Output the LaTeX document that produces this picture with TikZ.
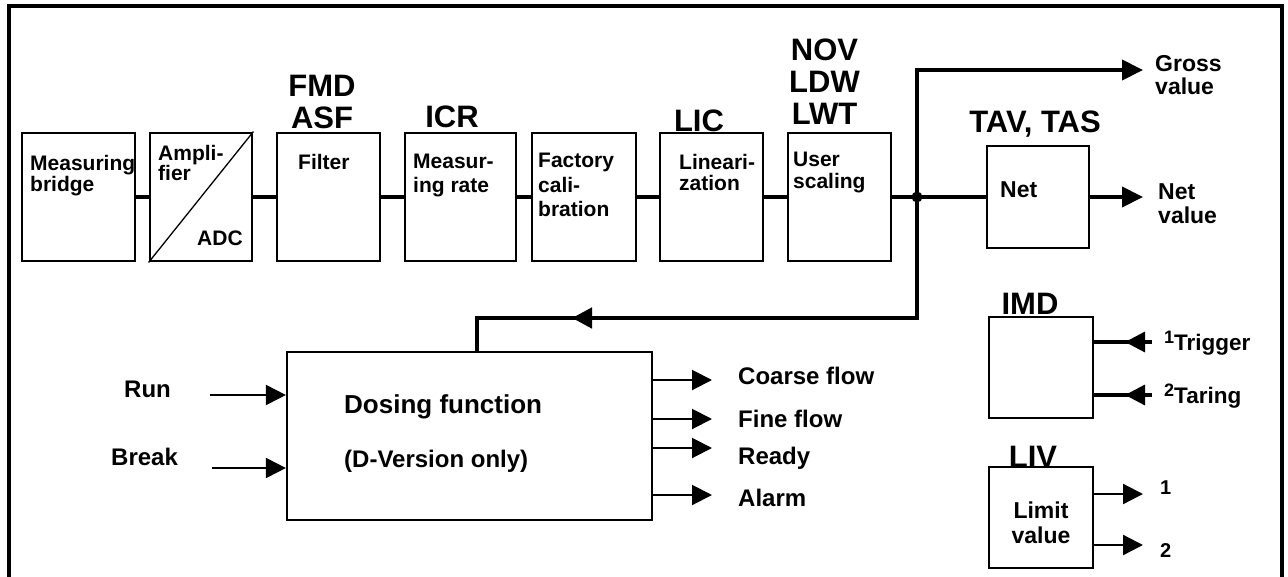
\documentclass[tikz,border=0pt]{standalone}
\usepackage{fontspec}
\setmainfont{Liberation Sans}
\usetikzlibrary{arrows.meta,calc,decorations.markings}
\newcommand\fsz[2]{\fontsize{#1}{#2}\selectfont\bfseries}
\begin{document}
\begin{tikzpicture}[x=1pt,y=-1pt,
  box/.style={draw,line width=2.9pt,inner sep=0pt,minimum width=103pt,minimum height=128pt},
  sbox/.style={draw,line width=2.2pt,inner sep=0pt},
  bus/.style={line width=4.6pt},
  sig/.style={line width=2pt},
  bigtip/.style={-{Triangle[length=21pt,width=20pt]}},
  smalltip/.style={-{Triangle[length=20pt,width=20pt]}},
  txt/.style={inner sep=0pt,font=\fsz{21}{22},align=left},
  lbl/.style={inner sep=0pt,font=\fsz{31}{32},anchor=base},
  mtxt/.style={inner sep=0pt,font=\fsz{24}{24},anchor=base west},
  midarrow/.style={postaction={decorate,decoration={markings,
      mark=at position #1 with {\arrow{Triangle[length=20pt,width=20pt]}}}}}
]
\useasboundingbox (0,0) rectangle (1288,576);
\fill[white] (0,0) rectangle (1288,576);
% frame
\draw[line width=3.4pt] (9,590) -- (9,6) -- (1282,6) -- (1282,590);

% top chain boxes
\node[box,minimum width=113pt] (mb)  at (78.5,197) {};
\node[box,minimum width=102pt] (amp) at (201,197) {};
\node[box] (fil) at (328.5,197) {};
\node[box,minimum width=111pt] (mr)  at (460.5,197) {};
\node[box,minimum width=104pt] (fc)  at (584,197) {};
\node[box] (lin) at (711.5,197) {};
\node[box] (us)  at (839.5,197) {};
\draw[line width=1.3pt] (amp.south west) -- (amp.north east);

% texts in boxes
\node[txt,anchor=north west,font=\fsz{21}{21}] (tmb) at (30,155) {Measuring\\bridge};
\node[txt,anchor=north west,font=\fsz{21}{20}] (tamp) at (158,145) {Ampli-\\fier};
\node[txt,anchor=base west] (tadc) at (197,245) {ADC};
\node[txt,anchor=base west] (tfil) at (298,169) {Filter};
\node[txt,anchor=north west,font=\fsz{21}{24}] (tmr) at (413,154) {Measur-\\ing rate};
\node[txt,anchor=north west,font=\fsz{21}{24.5}] (tfc) at (538,153) {Factory\\cali-\\bration};
\node[txt,anchor=north west,font=\fsz{21}{21.5}] (tlin) at (679,154) {Lineari-\\zation};
\node[txt,anchor=north west,font=\fsz{21}{22}] (tus) at (793,152) {User\\scaling};

% parameter labels
\node[lbl] (l1) at (322,96) {FMD};
\node[lbl] (l2) at (322,128) {ASF};
\node[lbl] (l3) at (452,127) {ICR};
\node[lbl] (l4) at (699,131) {LIC};
\node[lbl] (l5) at (824.5,60) {NOV};
\node[lbl] (l6) at (824.5,92) {LDW};
\node[lbl] (l7) at (824.5,124) {LWT};
\node[lbl] (l8) at (1035,132) {TAV, TAS};
\node[lbl] (l9) at (1030,314) {IMD};
\node[lbl] (l10) at (1033,467) {LIV};

% chain connectors
\draw[bus] (mb.east) -- (amp.west);
\draw[bus] (amp.east) -- (fil.west);
\draw[bus] (fil.east) -- (mr.west);
\draw[bus] (mr.east) -- (fc.west);
\draw[bus] (fc.east) -- (lin.west);
\draw[bus] (lin.east) -- (us.west);

% net box
\node[draw,line width=2.7pt,inner sep=0pt,minimum width=102pt,minimum height=102pt] (net) at (1038,197) {};
\node[inner sep=0pt,font=\fsz{23}{23},anchor=base west] (tnet) at (1000,197) {Net};
\coordinate (j) at (917,197);
\draw[bus] (us.east) -- (net.west);
\fill (j) circle (5.5pt);
\coordinate (gross) at (1143,70);
\coordinate (netout) at (1143,197);
\draw[line width=4pt,bigtip] (j) |- (gross);
\draw[line width=4pt,bigtip] (net.east) -- (netout);
\node[inner sep=0pt,font=\fsz{23}{23},anchor=base west] (tg1) at (1155,71) {Gross};
\node[inner sep=0pt,font=\fsz{23}{23},anchor=base west] (tg2) at (1155,94) {value};
\node[inner sep=0pt,font=\fsz{23}{23},anchor=base west] (tn1) at (1158,199) {Net};
\node[inner sep=0pt,font=\fsz{23}{23},anchor=base west] (tn2) at (1158,223) {value};

% dosing box
\node[draw,line width=2.2pt,inner sep=0pt,minimum width=365pt,minimum height=168pt] (dos) at (469.5,436) {};
\node[inner sep=0pt,font=\fsz{26}{26},anchor=base west] (td1) at (344,413) {Dosing function};
\node[mtxt] (td2) at (344,467) {(D-Version only)};
% feedback
\coordinate (fb) at (477,318);
\draw[bus,line join=miter,midarrow=466pt] (j) |- (fb) -- (fb |- dos.north);

% inputs
\coordinate (run) at (210,395);
\coordinate (brk) at (212,468);
\draw[sig,smalltip] (run) -- (run -| dos.west);
\draw[sig,smalltip] (brk) -- (brk -| dos.west);
\node[mtxt] (trun) at (124,397) {Run};
\node[mtxt] (tbrk) at (111,465) {Break};

% outputs
\coordinate (o1) at (712,380);
\coordinate (o2) at (712,419);
\coordinate (o3) at (712,448);
\coordinate (o4) at (712,495);
\draw[sig,smalltip] (o1 -| dos.east) -- (o1);
\draw[sig,smalltip] (o2 -| dos.east) -- (o2);
\draw[sig,smalltip] (o3 -| dos.east) -- (o3);
\draw[sig,smalltip] (o4 -| dos.east) -- (o4);
\node[mtxt] (to1) at (738,384) {Coarse flow};
\node[mtxt] (to2) at (738,427) {Fine flow};
\node[mtxt] (to3) at (738,464) {Ready};
\node[mtxt] (to4) at (738,506) {Alarm};

% IMD
\node[sbox,minimum width=104pt,minimum height=101pt] (imd) at (1041,367.5) {};
\coordinate (t1) at (1152,342);
\coordinate (t2) at (1152,395);
\draw[line width=3.2pt,midarrow=27pt] (t1) -- (t1 -| imd.east);
\draw[line width=3.2pt,midarrow=27pt] (t2) -- (t2 -| imd.east);
\node[inner sep=0pt,font=\fsz{22.5}{22.5},anchor=base west] (ttr) at (1164,350)
  {\raisebox{7pt}{\fontsize{18}{18}\selectfont 1}Trigger};
\node[inner sep=0pt,font=\fsz{22.5}{22.5},anchor=base west] (tta) at (1164,403)
  {\raisebox{7pt}{\fontsize{18}{18}\selectfont 2}Taring};

% LIV
\node[sbox,minimum width=104pt,minimum height=101pt] (liv) at (1041,517.5) {};
\node[inner sep=0pt,font=\fsz{23}{23},anchor=base] (tl1) at (1041,518) {Limit};
\node[inner sep=0pt,font=\fsz{23}{23},anchor=base] (tl2) at (1041,543) {value};
\coordinate (q1) at (1143,494);
\coordinate (q2) at (1143,545);
\draw[line width=2.3pt,smalltip] (q1 -| liv.east) -- (q1);
\draw[line width=2.3pt,smalltip] (q2 -| liv.east) -- (q2);
\node[inner sep=0pt,font=\fsz{20}{20},anchor=base west] (tq1) at (1160,494) {1};
\node[inner sep=0pt,font=\fsz{20}{20},anchor=base west] (tq2) at (1160,557) {2};
\end{tikzpicture}
\end{document}
